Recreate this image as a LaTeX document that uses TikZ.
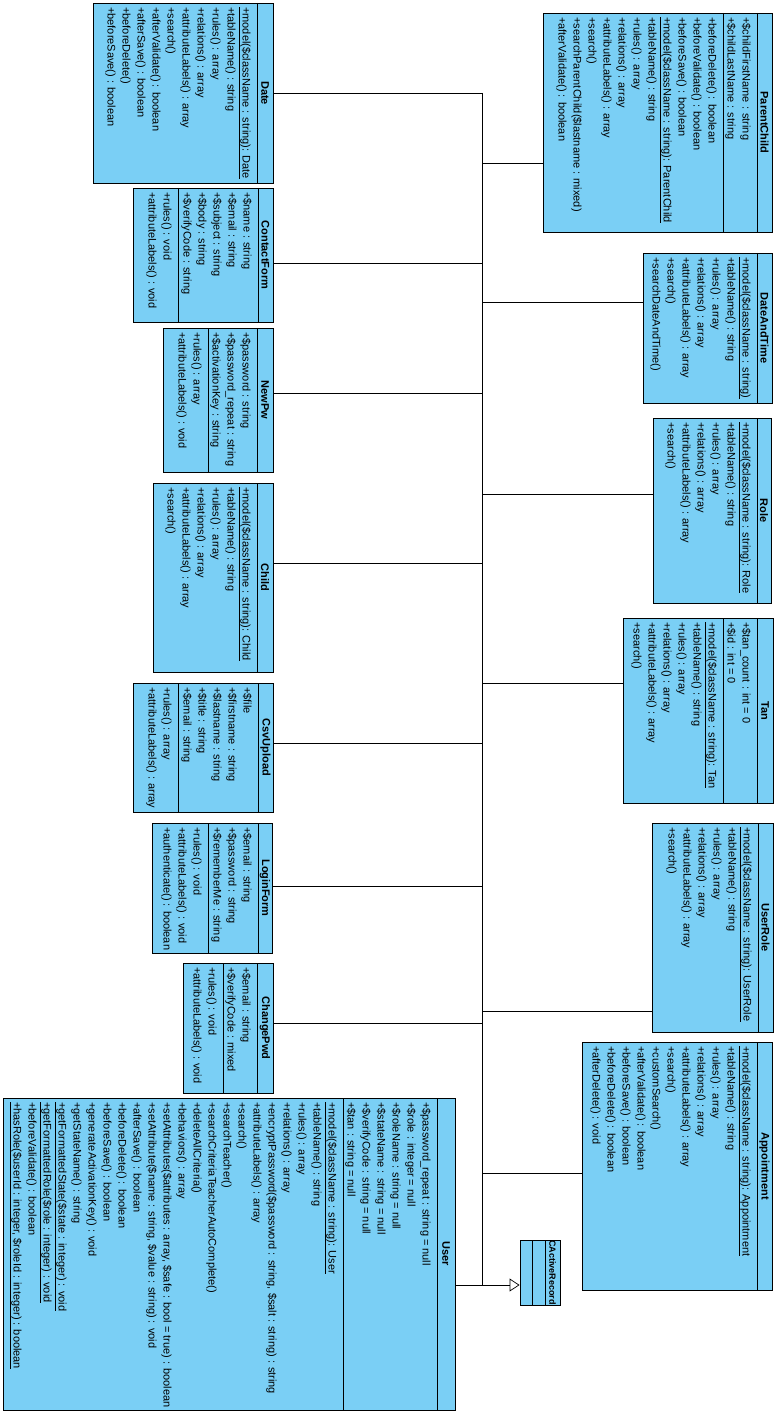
\documentclass[tikz,border=0pt]{standalone}
\usepackage{fontspec}
\setmainfont{Liberation Sans}
\usepackage{tikz}
\usetikzlibrary{positioning,fit,arrows.meta}
\definecolor{classblue}{HTML}{7ACFF5}

\tikzset{
  classbox/.style={draw=black, fill=classblue, line width=0.9pt, inner sep=0pt},
  classname/.style={rotate=-90, inner sep=0pt, font=\fontsize{11}{12}\selectfont\bfseries},
  member/.style={rotate=-90, anchor=base west, inner sep=0pt, font=\fontsize{11}{12}\selectfont},
  sep/.style={draw=black, line width=0.9pt},
  gen/.style={draw=black, line width=0.7pt}
}

\newcommand{\umlbox}[7]{%
  \node[classbox, fit={(#2,#3) (#4,#5)}] (#1) {};
  \draw[sep] (#6,#3) -- (#6,#5);
  \node[classname] (#1-name) at ({(#6+#4)/2},{(#3+#5)/2}) {#7};
}
\newcommand{\umlrows}[4]{%
  \foreach \m [count=\k] in {#4}
    \node[member] (#1\k) at ({#2-14.5-15*(\k-1)},{#3+4}) {\m};
}

\begin{document}
\begin{tikzpicture}[x=1pt, y=-1pt]
  \path[use as bounding box, fill=white] (0,0) rectangle (775,1415);

  \umlbox{date}{93}{3}{273}{183}{257}{Date}
  \umlrows{date-m}{257}{3}{\underline{+model(\$className : string): Date}, +tableName() : string, +rules() : array, +relations() : array, +attributeLabels() : array, +search(), +afterValidate() : boolean, +afterSave() : boolean, +beforeDelete(), +beforeSave() : boolean}

  \umlbox{parentchild}{543}{13}{772}{232}{757}{ParentChild}
  \umlrows{parentchild-a}{757}{13}{+\$childFirstName : string, +\$childLastName : string}
  \umlrows{parentchild-m}{723}{13}{+beforeDelete() : boolean, +beforeValidate() : boolean, +beforeSave() : boolean, \underline{+model(\$className : string): ParentChild}, +tableName() : string, +rules() : array, +relations() : array, +attributeLabels() : array, +search(), +searchParentChild(\$lastname : mixed), +afterValidate() : boolean}

  \umlbox{contact}{133}{188}{273}{322}{258}{ContactForm}
  \umlrows{contact-a}{258}{188}{+\$name : string, +\$email : string, +\$subject : string, +\$body : string, +\$verifyCode : string}
  \umlrows{contact-m}{178}{188}{+rules() : void, +attributeLabels() : void}

  \umlbox{datetime}{643}{253}{772}{403}{757}{DateAndTime}
  \umlrows{datetime-m}{757}{253}{\underline{+model(\$className : string)}, +tableName() : string, +rules() : array, +relations() : array, +attributeLabels() : array, +search(), +searchDateAndTime()}

  \umlbox{newpw}{163}{328}{273}{472}{257}{NewPw}
  \umlrows{newpw-a}{257}{328}{+\$password : string, +\$password\_repeat : string, +\$activationKey : string}
  \umlrows{newpw-m}{208}{328}{+rules() : array, +attributeLabels() : void}

  \umlbox{role}{653}{418}{771}{603}{757}{Role}
  \umlrows{role-m}{757}{418}{\underline{+model(\$className : string): Role}, +tableName() : string, +rules() : array, +relations() : array, +attributeLabels() : array, +search()}

  \umlbox{child}{153}{483}{273}{672}{257}{Child}
  \umlrows{child-m}{257}{483}{\underline{+model(\$className : string): Child}, +tableName() : string, +rules() : array, +relations() : array, +attributeLabels() : array, +search()}

  \umlbox{tan}{623}{618}{773}{803}{757}{Tan}
  \umlrows{tan-a}{757}{618}{+\$tan\_count : int = 0, +\$id : int = 0}
  \umlrows{tan-m}{723}{618}{\underline{+model(\$className : string): Tan}, +tableName() : string, +rules() : array, +relations() : array, +attributeLabels() : array, +search()}

  \umlbox{csv}{133}{683}{273}{812}{258}{CsvUpload}
  \umlrows{csv-a}{258}{683}{+\$file, +\$firstname : string, +\$lastname : string, +\$title : string, +\$email : string}
  \umlrows{csv-m}{178}{683}{+rules() : array, +attributeLabels() : array}

  \umlbox{login}{152}{823}{272}{953}{258}{LoginForm}
  \umlrows{login-a}{258}{823}{+\$email : string, +\$password : string, +\$rememberMe : string}
  \umlrows{login-m}{208}{823}{+rules() : void, +attributeLabels() : void, +authenticate() : boolean}

  \umlbox{userrole}{652}{823}{773}{1032}{758}{UserRole}
  \umlrows{userrole-m}{758}{823}{\underline{+model(\$className : string): UserRole}, +tableName() : string, +rules() : array, +relations() : array, +attributeLabels() : array, +search()}

  \umlbox{changepwd}{183}{963}{273}{1093}{257}{ChangePwd}
  \umlrows{changepwd-a}{257}{963}{+\$email : string, +\$verifyCode : mixed}
  \umlrows{changepwd-m}{223}{963}{+rules() : void, +attributeLabels() : void}

  \umlbox{appointment}{582}{1042}{772}{1290}{757}{Appointment}
  \umlrows{appointment-m}{757}{1042}{\underline{+model(\$className : string): Appointment}, +tableName() : string, +rules() : array, +relations() : array, +attributeLabels() : array, +search(), +customSearch(), +afterValidate() : boolean, +beforeSave() : boolean, +beforeDelete() : boolean, +afterDelete() : void}

  \umlbox{user}{3}{1098}{455}{1410}{437}{User}
  \umlrows{user-a}{437}{1098}{+\$password\_repeat : string = null, +\$role : integer = null, +\$roleName : string = null, +\$stateName : string = null, +\$verifyCode : string = null, +\$tan : string = null}
  \umlrows{user-m}{343}{1098}{\underline{+model(\$className : string): User}, +tableName() : string, +rules() : array, +relations() : array, {+encryptPassword(\$password : string, \$salt : string) : string}, +attributeLabels() : array, +search(), +searchTeacher(), +searchCriteriaTeacherAutoComplete(), +deleteAllCriteria(), +behaviors() : array, {+setAttributes(\$attributes : array, \$safe : bool = true) : boolean}, {+setAttribute(\$name : string, \$value : string) : void}, +afterSave() : boolean, +beforeDelete() : boolean, +beforeSave() : boolean, +generateActivationKey() : void, +getStateName() : string, \underline{+getFormattedState(\$state : integer) : void}, \underline{+getFormattedRole(\$role : integer) : void}, +beforeValidate() : boolean, {\underline{+hasRole(\$userId : integer, \$roleId : integer) : boolean}}}

  \umlbox{base}{520}{1240}{560}{1305}{545}{\fontsize{9}{10}\selectfont CActiveRecord}

  \foreach \x/\a/\b in {723/13/232, 178/188/322, 208/328/472, 723/618/803, 178/683/812, 208/823/953, 223/963/1093, 343/1098/1410, 532/1240/1305}
    \draw[sep] (\x,\a) -- (\x,\b);

  \foreach \c/\y in {date/93, parentchild/163, contact/263, datetime/302, newpw/393, role/494, child/563, tan/683, csv/743, login/886, userrole/1011, changepwd/1023, appointment/1173, user/1285}
    \coordinate (j\c) at (482,\y);

  \foreach \c in {date, contact, newpw, child, csv, login, changepwd, user}
    \draw[gen] (\c.east |- j\c) -- (j\c);
  \foreach \c in {parentchild, datetime, role, tan, userrole, appointment}
    \draw[gen] (\c.west |- j\c) -- (j\c);

  \draw[gen] (jdate) -- (juser);
  \draw[gen, -{Triangle[open, length=10pt, width=13pt]}] (juser) -- (base.west |- juser);
\end{tikzpicture}
\end{document}
